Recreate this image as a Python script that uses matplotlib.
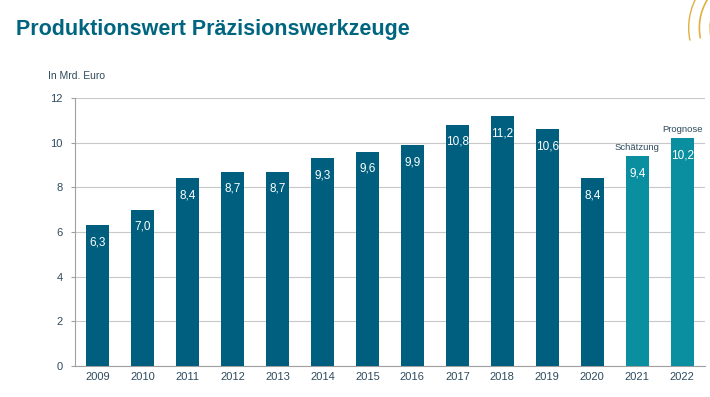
import matplotlib.pyplot as plt
from matplotlib.patches import Arc

years = ["2009", "2010", "2011", "2012", "2013", "2014", "2015",
         "2016", "2017", "2018", "2019", "2020", "2021", "2022"]
values = [6.3, 7.0, 8.4, 8.7, 8.7, 9.3, 9.6, 9.9, 10.8, 11.2, 10.6, 8.4, 9.4, 10.2]
notes = {12: "Schätzung", 13: "Prognose"}

DARK = "#005f7e"
LIGHT = "#0a8fa0"
TEXT = "#2d4a5e"

plt.rcParams['font.family'] = ['Liberation Sans', 'DejaVu Sans']

fig = plt.figure(figsize=(7.10, 3.97), dpi=100)
ax = fig.add_axes([0.1056, 0.078, 0.887, 0.675])

colors = [LIGHT if i in notes else DARK for i in range(len(values))]
x = range(len(values))
bars = ax.bar(x, values, width=0.5, color=colors, zorder=3)

for i, (b, v) in enumerate(zip(bars, values)):
    ax.annotate(f"{v:.1f}".replace(".", ","), (i, v), xytext=(0, -8),
                textcoords="offset points", ha="center", va="top",
                color="white", fontsize=8.5, zorder=4)
    if i in notes:
        ax.annotate(notes[i], (i, v), xytext=(0, 3), textcoords="offset points",
                    ha="center", va="bottom", color=TEXT, fontsize=6.8)

ax.set_xlim(-0.5, 13.5)
ax.set_ylim(0, 12)
ax.set_yticks(range(0, 13, 2))
ax.set_xticks(list(x))
ax.set_xticklabels(years)
ax.yaxis.grid(True, color="#c8c8c8", linewidth=0.8, zorder=0)
ax.tick_params(axis="y", length=3, color="#a0a0a0", labelsize=8, labelcolor=TEXT, pad=6)
ax.tick_params(axis="x", length=0, labelsize=8, labelcolor=TEXT, pad=4)
for s in ["top", "right"]:
    ax.spines[s].set_visible(False)
for s in ["left", "bottom"]:
    ax.spines[s].set_color("#a0a0a0")
    ax.spines[s].set_linewidth(0.8)

fig.text(0.022, 0.925, "Produktionswert Präzisionswerkzeuge", fontsize=15.5,
         fontweight="bold", color="#00657f", va="center", ha="left")
fig.text(0.068, 0.808, "In Mrd. Euro", fontsize=7.5, color=TEXT, va="center")

# logo arcs, top right corner
for r, lw in [(0.09, 1.0), (0.075, 1.2), (0.06, 1.0)]:
    fig.add_artist(Arc((1.06, 0.93), r * 2, r * 2 * 710 / 397, theta1=100, theta2=200,
                       color="#e0b040", lw=lw, transform=fig.transFigure))

fig.savefig("out.png", dpi=100)
